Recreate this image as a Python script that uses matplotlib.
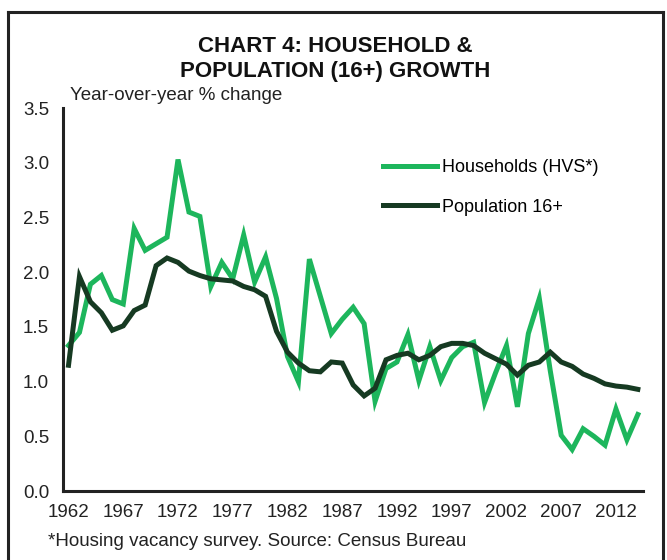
import matplotlib
matplotlib.use("Agg")
import matplotlib.pyplot as plt
from matplotlib.lines import Line2D

plt.rcParams['font.family'] = ['Liberation Sans', 'DejaVu Sans']

# Years on the category axis
years = list(range(1962, 2015))

# Households (HVS*), year-over-year % change
households = [1.33, 1.45, 1.89, 1.97, 1.75, 1.71, 2.40, 2.20, 2.26, 2.32,
              3.03, 2.55, 2.51, 1.87, 2.09, 1.94, 2.34, 1.91, 2.14, 1.76,
              1.23, 1.00, 2.12, 1.78, 1.44, 1.57, 1.68, 1.53, 0.82, 1.12,
              1.18, 1.43, 1.01, 1.32, 1.01, 1.22, 1.32, 1.36, 0.81, 1.08,
              1.33, 0.77, 1.44, 1.76, 1.10, 0.51, 0.38, 0.57, 0.50, 0.42,
              0.75, 0.47, 0.70]

# Population 16+, year-over-year % change
population = [1.15, 1.96, 1.73, 1.63, 1.47, 1.51, 1.65, 1.70, 2.06, 2.13,
              2.09, 2.01, 1.97, 1.94, 1.93, 1.92, 1.87, 1.84, 1.78, 1.46,
              1.27, 1.17, 1.10, 1.09, 1.18, 1.17, 0.97, 0.87, 0.94, 1.20,
              1.24, 1.26, 1.20, 1.24, 1.32, 1.35, 1.35, 1.33, 1.26, 1.21,
              1.16, 1.06, 1.15, 1.18, 1.27, 1.18, 1.14, 1.07, 1.03, 0.98,
              0.96, 0.95, 0.93]

yticks = [0.0, 0.5, 1.0, 1.5, 2.0, 2.5, 3.0, 3.5]
tick_years = years[::5]

green = '#1db65c'
dark = '#163a22'

fig = plt.figure(figsize=(6.67, 5.6), dpi=100)
ax = fig.add_axes([0.0945, 0.123, 0.87, 0.684])

x = list(range(len(years)))
ax.plot(x, households, color=green, lw=3.6, label='Households (HVS*)', solid_joinstyle='miter')
ax.plot(x, population, color=dark, lw=3.6, label='Population 16+', solid_joinstyle='miter')

ax.set_xlim(-0.5, len(years) - 0.5)
ax.set_ylim(0, 3.5)
ax.set_yticks(yticks)
ax.set_yticklabels([f'{v:.1f}' for v in yticks], fontsize=13.5)
ax.set_xticks([years.index(y) for y in tick_years])
ax.set_xticklabels([str(y) for y in tick_years], fontsize=13.5)
ax.tick_params(axis='both', length=0, colors='#222222')
ax.tick_params(axis='y', pad=10)
ax.tick_params(axis='x', pad=9)

for s in ['top', 'right']:
    ax.spines[s].set_visible(False)
for s in ['left', 'bottom']:
    ax.spines[s].set_linewidth(2.2)
    ax.spines[s].set_color('#222222')

leg = ax.legend(loc='upper left', bbox_to_anchor=(383 / 667, 1 - 159 / 560),
                bbox_transform=fig.transFigure, frameon=False, fontsize=13,
                handlelength=3.0, handletextpad=0.25, labelspacing=1.25,
                borderpad=0, borderaxespad=0)

fig.text(0.502, 1 - 59 / 560, 'CHART 4: HOUSEHOLD &\nPOPULATION (16+) GROWTH',
         ha='center', va='center', fontsize=16, fontweight='bold',
         linespacing=1.25, color='#111111')
fig.text(70 / 667, 1 - 95 / 560, 'Year-over-year % change', ha='left',
         va='center', fontsize=13.5, color='#222222')
fig.text(48 / 667, 1 - 541 / 560, '*Housing vacancy survey. Source: Census Bureau',
         ha='left', va='center', fontsize=13.5, color='#222222')

# outer frame
fr = dict(color='#222222', lw=2.2, transform=fig.transFigure)
fig.add_artist(Line2D([8 / 667, 8 / 667], [0, 1 - 12 / 560], **fr))
fig.add_artist(Line2D([8 / 667, 663 / 667], [1 - 12 / 560, 1 - 12 / 560], **fr))
fig.add_artist(Line2D([663 / 667, 663 / 667], [0, 1 - 12 / 560], **fr))

fig.savefig('out.png', dpi=100)
